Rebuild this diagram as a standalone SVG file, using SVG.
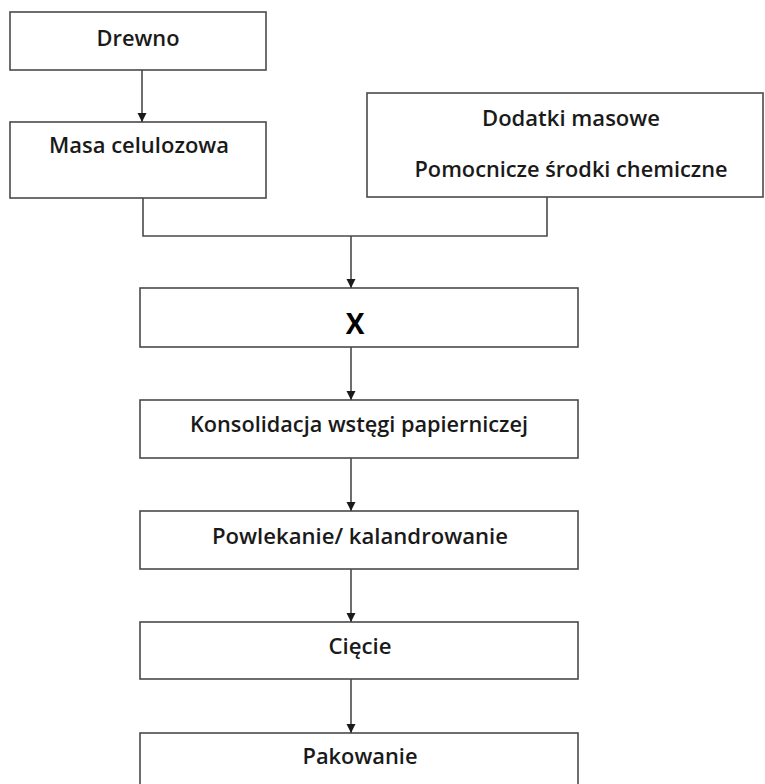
<svg xmlns="http://www.w3.org/2000/svg" width="765" height="784" viewBox="0 0 765 784">
<style>
.box{fill:#fff;stroke:#4a4a4a;stroke-width:1.6}
.lbl{font-family:"Open Sans","Liberation Sans",sans-serif;font-size:21px;font-weight:600;fill:#1a1a1a;text-anchor:middle;dominant-baseline:central}
.bx{font-weight:bold;font-size:28px;fill:#000}
.con{fill:none;stroke:#4a4a4a;stroke-width:1.6}
</style>
<defs>
<marker id="ah" markerWidth="10" markerHeight="10" refX="9" refY="5" orient="auto" markerUnits="userSpaceOnUse">
<path d="M0,0.5 L9,5 L0,9.5 Z" fill="#1a1a1a"/>
</marker>
</defs>
<rect width="765" height="784" fill="#fff"/>
<g id="drewno"><rect class="box" x="10" y="12" width="256" height="58"/><text class="lbl" x="138" y="38" textLength="83" lengthAdjust="spacingAndGlyphs">Drewno</text></g>
<g id="masa"><rect class="box" x="10" y="122" width="256" height="76"/><text class="lbl" x="139" y="145" textLength="180" lengthAdjust="spacingAndGlyphs">Masa celulozowa</text></g>
<g id="dodatki"><rect class="box" x="367" y="93" width="396" height="104"/><text class="lbl" x="571" y="118" textLength="178" lengthAdjust="spacingAndGlyphs">Dodatki masowe</text><text class="lbl" x="571" y="169" textLength="313" lengthAdjust="spacingAndGlyphs">Pomocnicze środki chemiczne</text></g>
<g id="x"><rect class="box" x="140" y="288" width="438" height="59"/><text class="lbl bx" x="355" y="323">X</text></g>
<g id="konsolidacja"><rect class="box" x="140" y="400" width="438" height="58"/><text class="lbl" x="359" y="424" textLength="338" lengthAdjust="spacingAndGlyphs">Konsolidacja wstęgi papierniczej</text></g>
<g id="powlekanie"><rect class="box" x="140" y="511" width="438" height="58"/><text class="lbl" x="360" y="536" textLength="296" lengthAdjust="spacingAndGlyphs">Powlekanie/ kalandrowanie</text></g>
<g id="ciecie"><rect class="box" x="140" y="622" width="438" height="57"/><text class="lbl" x="360" y="646" textLength="63" lengthAdjust="spacingAndGlyphs">Cięcie</text></g>
<g id="pakowanie"><rect class="box" x="140" y="733" width="438" height="60"/><text class="lbl" x="360" y="756" textLength="115" lengthAdjust="spacingAndGlyphs">Pakowanie</text></g>
<g id="connectors">
<path class="con" d="M142,70 V122" marker-end="url(#ah)"/>
<path class="con" d="M143,198 V236 H547 V197"/>
<path class="con" d="M351,236 V288" marker-end="url(#ah)"/>
<path class="con" d="M351,347 V400" marker-end="url(#ah)"/>
<path class="con" d="M351,458 V511" marker-end="url(#ah)"/>
<path class="con" d="M351,569 V622" marker-end="url(#ah)"/>
<path class="con" d="M351,679 V733" marker-end="url(#ah)"/>
</g>
</svg>
